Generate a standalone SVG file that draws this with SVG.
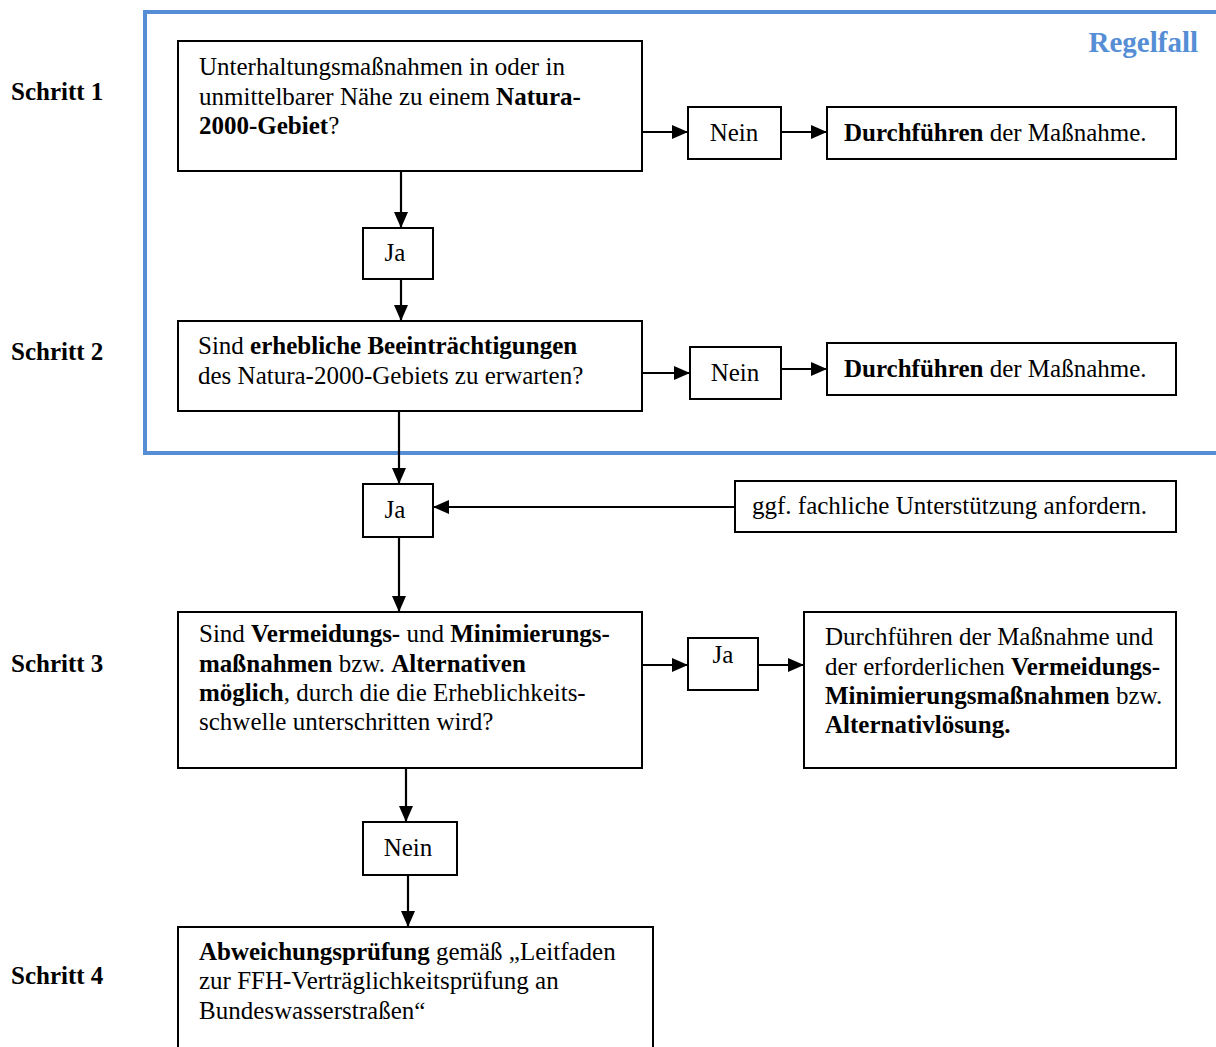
<svg xmlns="http://www.w3.org/2000/svg" width="1216" height="1047" viewBox="0 0 1216 1047">
<style>
text{font-family:"Liberation Serif","Times New Roman",serif;font-size:25px;fill:#000}
.b{font-weight:bold}
.box{fill:#fff;stroke:#000;stroke-width:2}
.mid{text-anchor:middle}
.con{stroke:#000;stroke-width:2.2;fill:none;marker-end:url(#arr)}
.frame{fill:none;stroke:#558ED5;stroke-width:4}
</style>
<defs>
<marker id="arr" markerUnits="userSpaceOnUse" markerWidth="16" markerHeight="14" refX="16" refY="7" orient="auto">
<path d="M0,0 L16,7 L0,14 z" fill="#000"/>
</marker>
</defs>
<rect width="1216" height="1047" fill="#fff"/>

<g id="frame">
<path class="frame" d="M1220,12 H145 V453 H1220"/>
<text x="1198" y="52" text-anchor="end" class="b" style="font-size:29px;fill:#558ED5">Regelfall</text>
</g>

<g id="labels">
<text x="11" y="100" class="b">Schritt 1</text>
<text x="11" y="360" class="b">Schritt 2</text>
<text x="11" y="672" class="b">Schritt 3</text>
<text x="11" y="984" class="b">Schritt 4</text>
</g>

<g id="connectors">
<line class="con" x1="401" y1="172" x2="401" y2="228"/>
<line class="con" x1="401" y1="279" x2="401" y2="321"/>
<line class="con" x1="642" y1="132" x2="688" y2="132"/>
<line class="con" x1="781" y1="132" x2="827" y2="132"/>
<line class="con" x1="642" y1="373" x2="690" y2="373"/>
<line class="con" x1="781" y1="369" x2="827" y2="369"/>
<line class="con" x1="399" y1="411" x2="399" y2="484"/>
<line class="con" x1="735" y1="507" x2="433" y2="507"/>
<line class="con" x1="399" y1="537" x2="399" y2="612"/>
<line class="con" x1="642" y1="665" x2="688" y2="665"/>
<line class="con" x1="758" y1="665" x2="804" y2="665"/>
<line class="con" x1="406" y1="768" x2="406" y2="822"/>
<line class="con" x1="408" y1="875" x2="408" y2="927"/>
</g>

<g id="step1">
<rect class="box" x="178" y="41" width="464" height="130"/>
<text x="199" y="75">Unterhaltungsmaßnahmen in oder in</text>
<text x="199" y="104.5">unmittelbarer Nähe zu einem <tspan class="b">Natura-</tspan></text>
<text x="199" y="134"><tspan class="b">2000-Gebiet</tspan>?</text>
</g>

<g id="nein1">
<rect class="box" x="688" y="107" width="93" height="52"/>
<text x="734" y="141" class="mid">Nein</text>
</g>

<g id="durch1">
<rect class="box" x="827" y="107" width="349" height="52"/>
<text x="844" y="141"><tspan class="b">Durchführen</tspan> der Maßnahme.</text>
</g>

<g id="ja1">
<rect class="box" x="363" y="228" width="70" height="51"/>
<text x="395" y="261" class="mid">Ja</text>
</g>

<g id="step2">
<rect class="box" x="178" y="321" width="464" height="90"/>
<text x="198" y="354">Sind <tspan class="b">erhebliche Beeinträchtigungen</tspan></text>
<text x="198" y="384">des Natura-2000-Gebiets zu erwarten?</text>
</g>

<g id="nein2">
<rect class="box" x="690" y="347" width="91" height="52"/>
<text x="735" y="381" class="mid">Nein</text>
</g>

<g id="durch2">
<rect class="box" x="827" y="343" width="349" height="52"/>
<text x="844" y="377"><tspan class="b">Durchführen</tspan> der Maßnahme.</text>
</g>

<g id="ja2">
<rect class="box" x="363" y="484" width="70" height="53"/>
<text x="395" y="518" class="mid">Ja</text>
</g>

<g id="support">
<rect class="box" x="735" y="481" width="441" height="51"/>
<text x="752" y="514">ggf. fachliche Unterstützung anfordern.</text>
</g>

<g id="step3">
<rect class="box" x="178" y="612" width="464" height="156"/>
<text x="199" y="642">Sind <tspan class="b">Vermeidungs-</tspan> und <tspan class="b">Minimierungs-</tspan></text>
<text x="199" y="671.5"><tspan class="b">maßnahmen</tspan> bzw. <tspan class="b">Alternativen</tspan></text>
<text x="199" y="701"><tspan class="b">möglich</tspan>, durch die die Erheblichkeits-</text>
<text x="199" y="730">schwelle unterschritten wird?</text>
</g>

<g id="ja3">
<rect class="box" x="688" y="638" width="70" height="52"/>
<text x="723" y="663" class="mid">Ja</text>
</g>

<g id="result3">
<rect class="box" x="804" y="612" width="372" height="156"/>
<text x="825" y="645">Durchführen der Maßnahme und</text>
<text x="825" y="674.5">der erforderlichen <tspan class="b">Vermeidungs-</tspan></text>
<text x="825" y="704"><tspan class="b">Minimierungsmaßnahmen</tspan> bzw.</text>
<text x="825" y="733"><tspan class="b">Alternativlösung.</tspan></text>
</g>

<g id="nein3">
<rect class="box" x="363" y="822" width="94" height="53"/>
<text x="408" y="856" class="mid">Nein</text>
</g>

<g id="step4">
<rect class="box" x="178" y="927" width="475" height="140"/>
<text x="199" y="960"><tspan class="b">Abweichungsprüfung</tspan> gemäß „Leitfaden</text>
<text x="199" y="989">zur FFH-Verträglichkeitsprüfung an</text>
<text x="199" y="1019">Bundeswasserstraßen“</text>
</g>
</svg>
